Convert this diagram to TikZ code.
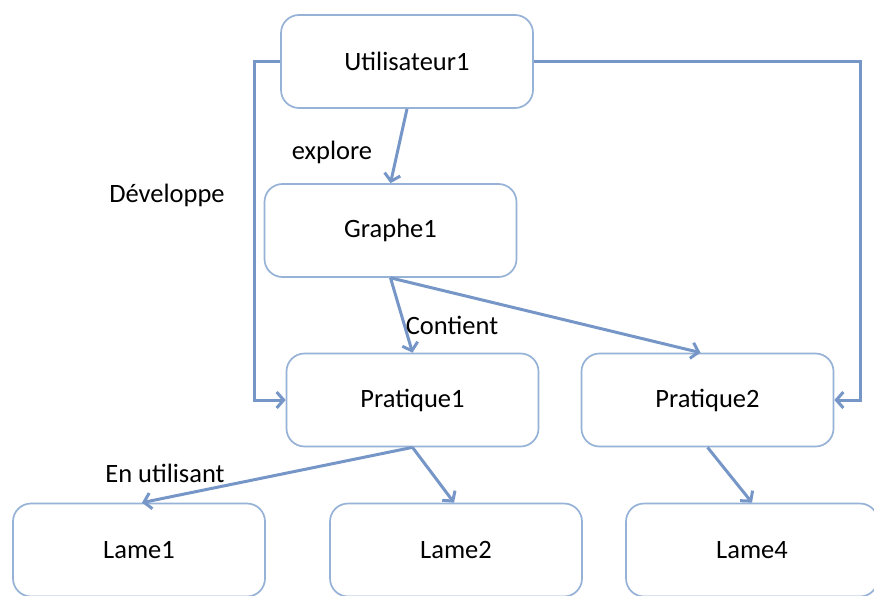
\documentclass[tikz,border=0pt]{standalone}
\usepackage{fontspec}
\setmainfont{Carlito}
\usetikzlibrary{arrows.meta}
\definecolor{boxline}{RGB}{150,178,214}
\definecolor{arrline}{RGB}{118,150,200}

\begin{document}
\begin{tikzpicture}[x=1pt,y=-1pt,
    boite/.style={draw=boxline,line width=1.7pt,rounded corners=18pt,fill=white,
      minimum width=252pt,minimum height=93pt,inner sep=0pt,font=\fontsize{26.5}{30}\selectfont},
    lien/.style={draw=arrline,line width=3pt,-{Straight Barb[length=7pt,width=16pt,line width=3pt]}},
    etiq/.style={font=\fontsize{26.5}{30}\selectfont,inner sep=0pt}]
  \useasboundingbox (0,0) rectangle (874,596);
  % the boxes
  \node[boite] (util) at (407,61.5) {Utilisateur1};
  \node[boite] (graphe) at (390.5,230.5) {Graphe1};
  \node[boite] (prat1) at (412.5,400) {Pratique1};
  \node[boite] (prat2) at (707.5,400) {Pratique2};
  \foreach \nom/\x/\txt in {lame1/139/Lame1, lame2/456/Lame2, lame4/752/Lame4} {
    \node[boite] (\nom) at (\x,550) {\txt};
  }
  % corners of the long connectors
  \coordinate (coingauche) at (254,61.5);
  \coordinate (coindroit) at (860,61.5);
  % connectors
  \draw[lien] (util.west) -- (util.west -| coingauche) |- (prat1.west);
  \draw[lien] (util.east) -- (util.east -| coindroit) |- (prat2.east);
  \draw[lien] (util.south) -- (graphe.north);
  \draw[lien] (graphe.south) -- (prat1.north);
  \draw[lien] (graphe.south) -- ([xshift=-7pt]prat2.north);
  \draw[lien] (prat1.south) -- ([xshift=3pt]lame1.north);
  \draw[lien] (prat1.south) -- ([xshift=-2pt]lame2.north);
  \draw[lien] (prat2.south) -- (lame4.north);
  % labels
  \node[etiq] (lblexplore) at (332,152) {explore};
  \node[etiq] (lbldev) at (167,195) {Développe};
  \node[etiq] (lblcontient) at (452,325) {Contient};
  \node[etiq] (lblutil) at (165,473) {En utilisant};
\end{tikzpicture}
\end{document}
